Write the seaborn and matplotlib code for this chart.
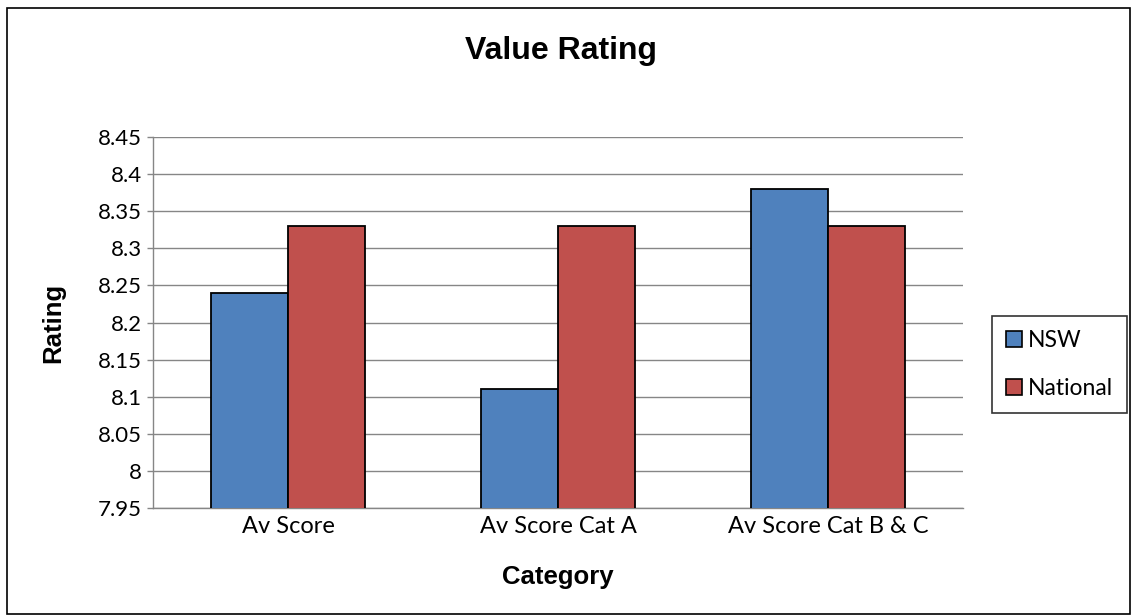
import matplotlib
matplotlib.use("Agg")
import matplotlib.pyplot as plt
import seaborn as sns
import pandas as pd
from matplotlib.patches import Rectangle

categories = ["Av Score", "Av Score Cat A", "Av Score Cat B & C"]
nsw = [8.24, 8.11, 8.38]
national = [8.33, 8.33, 8.33]
series_names = ["NSW", "National"]
y_ticks = [7.95, 8.0, 8.05, 8.1, 8.15, 8.2, 8.25, 8.3, 8.35, 8.4, 8.45]
y_tick_labels = ["7.95", "8", "8.05", "8.1", "8.15", "8.2", "8.25", "8.3", "8.35", "8.4", "8.45"]

df = pd.DataFrame({
    "Category": categories * 2,
    "Series": [series_names[0]] * 3 + [series_names[1]] * 3,
    "Rating": nsw + national,
})

sns.set_style("white")
plt.rcParams["font.family"] = ["Lato", "DejaVu Sans"]
plt.rcParams["text.color"] = "black"
plt.rcParams["axes.labelcolor"] = "black"
plt.rcParams["xtick.color"] = "black"
plt.rcParams["ytick.color"] = "black"

bold_family = ["Liberation Sans", "DejaVu Sans"]

fig = plt.figure(figsize=(11.32, 6.16), dpi=100)
ax = fig.add_axes([0.1352, 0.1753, 0.7155, 0.6023])

palette = {"NSW": "#4F81BD", "National": "#C0504D"}
sns.barplot(data=df, x="Category", y="Rating", hue="Series", palette=palette,
            width=0.57, edgecolor="black", linewidth=1.3, saturation=1,
            ax=ax, legend=True, zorder=3)

ax.set_ylim(7.95, 8.45)
ax.set_yticks(y_ticks)
ax.set_yticklabels(y_tick_labels, fontsize=16)
ax.tick_params(axis="x", labelsize=17, length=0, pad=6)
ax.tick_params(axis="y", length=4, color="#868686", width=1, left=True, pad=4)
ax.yaxis.grid(True, color="#868686", linewidth=1, zorder=0)
ax.set_axisbelow(True)
for side in ["top", "right"]:
    ax.spines[side].set_visible(False)
for side in ["left", "bottom"]:
    ax.spines[side].set_color("#868686")
    ax.spines[side].set_linewidth(1)

ax.set_xlabel("Category", fontsize=18.5, fontweight="bold",
              family=bold_family, labelpad=20)
ax.set_ylabel("Rating", fontsize=18.5, fontweight="bold", family=bold_family)
ax.yaxis.set_label_coords(-0.108, 0.5)

fig.text(0.4955, 0.917, "Value Rating", ha="center", va="center",
         fontsize=23, fontweight="bold", family=bold_family)

leg = ax.legend(title=None, loc="center left", bbox_to_anchor=(1.036, 0.387),
                borderaxespad=0, fontsize=16.5, frameon=True, fancybox=False,
                edgecolor="black", handlelength=0.7, handleheight=0.7,
                handletextpad=0.25, labelspacing=1.2, borderpad=0.6)
leg.get_frame().set_linewidth(1.2)
for h in leg.legend_handles:
    h.set_edgecolor("black")
    h.set_linewidth(1.2)

fig.patches.append(Rectangle((0.006, 0.003), 0.992, 0.984, transform=fig.transFigure,
                             fill=False, edgecolor="black", linewidth=1.2))

fig.savefig("out.png", dpi=100, facecolor="white")
